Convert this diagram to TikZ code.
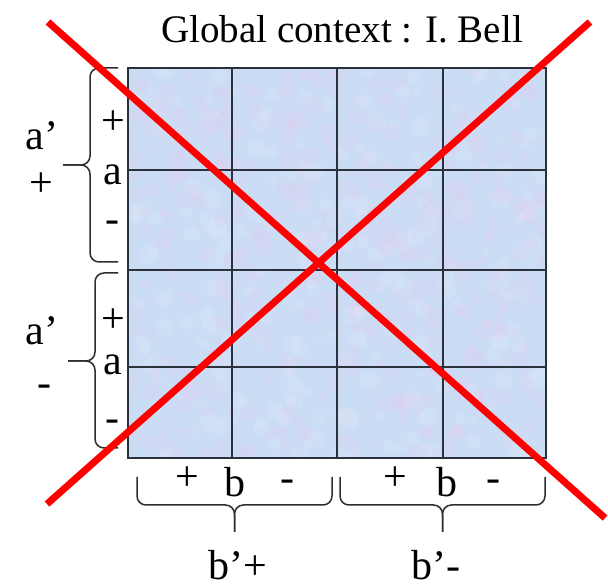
\documentclass[tikz,border=0pt]{standalone}
\usepackage{fontspec}
\setmainfont{Liberation Serif}
\usetikzlibrary{positioning}
\definecolor{CellBlue}{RGB}{203,221,245}
\definecolor{CellPink}{RGB}{226,206,240}
\definecolor{GridInk}{HTML}{2B323B}
\definecolor{BraceInk}{HTML}{2E2E2E}
\definecolor{CrossRed}{HTML}{FF0000}

\begin{document}
\begin{tikzpicture}[x=1pt,y=1pt,
      every node/.style={font=\fontsize{42}{44}\selectfont,inner sep=0pt,anchor=base},
      title/.style={font=\fontsize{39}{41}\selectfont},
      cell/.style={draw=GridInk,line width=1.8pt},
      gridline/.style={draw=GridInk,line width=1.8pt},
      bracket/.style={draw=BraceInk,line width=1.5pt,rounded corners=9pt},
      cross/.style={draw=CrossRed,line width=7pt}]
      \useasboundingbox (0,0) rectangle (608,588);
      \fill[white] (0,0) rectangle (608,588);
      \node[title] (title) at (342,545) {Global context : I. Bell};
      \fill[CellBlue] (128,130) rectangle (546,520);
      \begin{scope}
        \clip (128,130) rectangle (546,520);
        \pgfmathsetseed{7}
        \foreach \i in {1,...,500}
          \fill[CellPink,opacity=0.22] (128+418*rnd,130+390*rnd) circle ({3+7*rnd});
        \foreach \i in {1,...,250}
          \fill[white,opacity=0.08] (128+418*rnd,130+390*rnd) circle ({4+6*rnd});
      \end{scope}
      \draw[cell] (128,130) rectangle (546,520);
      \foreach \x in {232,337,443} \draw[gridline] (\x,130) -- (\x,520);
      \foreach \y in {418,318,221} \draw[gridline] (128,\y) -- (546,\y);
      \coordinate (aupt) at (118,520);
      \coordinate (aupb) at (118,326);
      \coordinate (aupc) at (63,423);
      \coordinate (alot) at (118,315);
      \coordinate (alob) at (118,140);
      \coordinate (aloc) at (68,227);
      \coordinate (bll) at (137,111);
      \coordinate (blr) at (332,111);
      \coordinate (blc) at (234.5,56);
      \coordinate (brl) at (340,111);
      \coordinate (brr) at (545,111);
      \coordinate (brc) at (442.5,56);
      \draw[bracket] (aupt) -| (90,423) -- (aupc);
      \draw[bracket] (aupb) -| (90,423) -- (aupc);
      \draw[bracket] (alot) -| (95,227) -- (aloc);
      \draw[bracket] (alob) -| (95,227) -- (aloc);
      \draw[bracket] (bll) |- (234.5,83) -- (blc);
      \draw[bracket] (blr) |- (234.5,83) -- (blc);
      \draw[bracket] (brl) |- (442.5,83) -- (brc);
      \draw[bracket] (brr) |- (442.5,83) -- (brc);
      \node (aupp) at (113,453) {+};
      \node (aupa) at (113,403) {a};
      \node (aupm) at (112,355) {-};
      \node (alop) at (113,255) {+};
      \node (aloa) at (113,213) {a};
      \node (alom) at (112,156) {-};
      \node (apup) at (42,438) {a’};
      \node (apupsign) at (41,391) {+};
      \node (aplo) at (42,243) {a’};
      \node (aplosign) at (44,191) {-};
      \node (blp) at (187,97) {+};
      \node (blb) at (235,91) {b};
      \node (blm) at (287,96) {-};
      \node (brp) at (395,97) {+};
      \node (brb) at (447,91) {b};
      \node (brm) at (493,96) {-};
      \node (bpp) at (238,8) {b’+};
      \node (bpm) at (436,8) {b’-};
      \draw[cross] (48,566) -- (605,70);
      \draw[cross] (590,566) -- (47,84);
    \end{tikzpicture}
\end{document}
